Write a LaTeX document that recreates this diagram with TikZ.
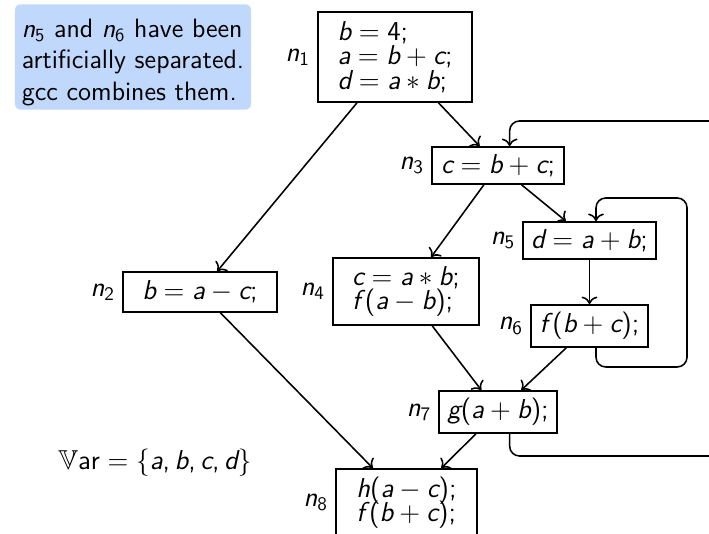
\RequirePackage{fix-cm}
\documentclass[tikz,border=0pt]{standalone}
\usepackage{amssymb}
\usetikzlibrary{arrows.meta}
% sans math letters, as on the slides
\DeclareSymbolFont{operators}{TU}{lmss}{m}{n}
\DeclareSymbolFont{letters}{TU}{lmss}{m}{sl}
\mathcode`\,="602C
\setlength{\lineskiplimit}{-20pt}
\definecolor{notebg}{RGB}{192,216,252}

\begin{document}
\begin{tikzpicture}[x=0.18cm,y=0.18cm,>={To[scale=1.15]},
  every node/.style={font=\sffamily\fontsize{14}{16}\selectfont},line width=0.8pt,
  blk/.style={draw,align=left,inner sep=2pt,font=\sffamily\fontsize{14}{12.6}\selectfont},
  note/.style={fill=notebg,rounded corners=3pt,align=left,inner sep=2pt,
    font=\sffamily\fontsize{13.6}{16.1}\selectfont}]
  \clip (0,0) rectangle (70.9,53.4);
  \node[note,minimum width=4.25cm,minimum height=1.8cm] (nt) at (13.3,47.7)
    {\rule{0pt}{15pt}$n_5$ and $n_6$ have been\\artificially separated.\\gcc combines them.};
  \node (var) at (15.5,7.1) {$\mathbb{V}\mathrm{ar}=\{a,b,c,d\}$};
  % blocks
  \node[blk,minimum width=2.77cm,minimum height=1.62cm,label=left:$n_1$] (n1) at (39.5,47.7)
    {$b=4;$\\$a=b+c;$\\$d=a*b;$};
  \node[blk,minimum width=2.77cm,minimum height=0.72cm,label=left:$n_2$] (n2) at (20,24.2) {$b=a-c;$};
  \node[blk,minimum width=2.38cm,minimum height=0.67cm,label=left:$n_3$] (n3) at (49.8,36.85) {$c=b+c;$};
  \node[blk,minimum width=2.63cm,minimum height=1.21cm,label=left:$n_4$] (n4) at (40.6,24.25)
    {$c=a*b;$\\$f\,(a-b);$};
  \node[blk,minimum width=2.39cm,minimum height=0.67cm,label=left:$n_5$] (n5) at (58.95,29.35) {$d=a+b;$};
  \node[blk,minimum width=2.11cm,minimum height=0.76cm,label=left:$n_6$] (n6) at (58.95,20.8) {$f\,(b+c);$};
  \node[blk,minimum width=2.12cm,minimum height=0.76cm,label=left:$n_7$] (n7) at (49.8,12.2) {$g(a+b);$};
  \node[blk,minimum width=2.54cm,minimum height=1.21cm,label=left:$n_8$] (n8) at (40.65,3.15)
    {$h(a-c);$\\$f\,(b+c);$};
  % edges
  \draw[->] (n1) -- (n2);
  \draw[->] (n1) -- (n3);
  \draw[->] (n3) -- (n4);
  \draw[->] (n3) -- (n5);
  \draw[->] (n5) -- (n6);
  \draw[->] (n4) -- (n7);
  \draw[->] (n6) -- (n7);
  \draw[->] (n2) -- (n8);
  \draw[->] (n7) -- (n8);
  % back edges
  \coordinate (r6) at (68.7,16.7);
  \coordinate (r5) at (68.7,33.6);
  \draw[->,rounded corners=5pt] ([xshift=1.17mm]n6.south) |- (r6) -- (r5) -| ([xshift=1.17mm]n5.north);
  \coordinate (r7) at (74,7.8);
  \coordinate (r3) at (74,41.3);
  \draw[->,rounded corners=5pt] ([xshift=2.1mm]n7.south) |- (r7) -- (r3) -| ([xshift=2.1mm]n3.north);
\end{tikzpicture}
\end{document}
